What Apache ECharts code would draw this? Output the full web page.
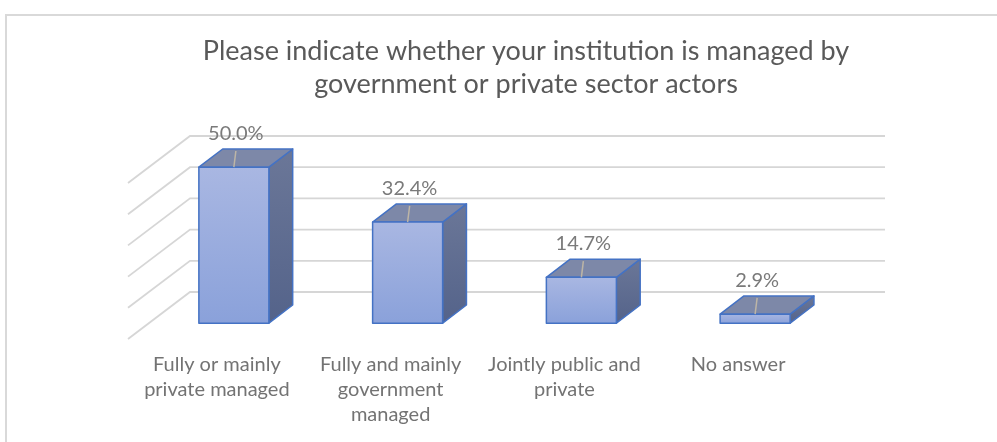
<!DOCTYPE html>
<html>
<head>
<meta charset="utf-8">
<script src="https://cdn.jsdelivr.net/npm/echarts@6/dist/echarts.min.js"></script>
<style>
  html, body { margin: 0; padding: 0; background: #ffffff; }
  #chart { width: 997px; height: 442px; }
</style>
</head>
<body>
<div id="chart"></div>
<script>
// Survey answers and their shares (%)
const categories = [
  'Fully or mainly\nprivate managed',
  'Fully and mainly\ngovernment\nmanaged',
  'Jointly public and\nprivate',
  'No answer'
];
const shares = [50.0, 32.4, 14.7, 2.9];
// Value levels of the back-wall gridlines (%)
const gridTicks = [10, 20, 30, 40, 50, 60];
const titleText = 'Please indicate whether your institution is managed by\ngovernment or private sector actors';

const FONT = 'Lato';
const chart = echarts.init(document.getElementById('chart'), null, { renderer: 'canvas' });

// Shared vertical placement of the three grids (wall, bars, labels)
const PLOT_TOP = 136;
const PLOT_BOTTOM = 442 - 323.2;

// Back-wall gridline with its slanted side-wall continuation
function renderWallLine(params, api) {
  const v = api.value(1);
  const y = api.coord([0, v])[1];
  const cs = params.coordSys;
  return {
    type: 'polyline',
    shape: { points: [[cs.x - 62, y + 47], [cs.x, y], [cs.x + cs.width, y]] },
    style: { stroke: '#d6d6d6', lineWidth: 1.8, fill: null }
  };
}

// Oblique 3D column with its value label and leader line
function renderColumn(params, api) {
  const i = api.value(0);
  const v = api.value(1);
  const base = api.coord([i, 0]);
  const top = api.coord([i, v]);
  const band = api.size([1, 0])[0];
  const w = band * 0.403;
  const hw = w / 2;
  const dx = w * 0.34;
  const dy = -w * 0.26;
  const cx = base[0];
  const L = cx - hw, R = cx + hw, T = top[1], B = base[1];
  const edge = '#4472c4';
  return {
    type: 'group',
    children: [
      {
        type: 'polygon',
        shape: { points: [[R, T], [R + dx, T + dy], [R + dx, B + dy], [R, B]] },
        style: {
          fill: new echarts.graphic.LinearGradient(0, 0, 0, 1, [
            { offset: 0, color: '#6b7798' },
            { offset: 1, color: '#54638a' }
          ]),
          stroke: edge, lineWidth: 1.5, lineJoin: 'round'
        }
      },
      {
        type: 'polygon',
        shape: { points: [[L, T], [R, T], [R + dx, T + dy], [L + dx, T + dy]] },
        style: { fill: '#7d88a8', stroke: edge, lineWidth: 1.5, lineJoin: 'round' }
      },
      {
        type: 'rect',
        shape: { x: L, y: T, width: w, height: B - T },
        style: {
          fill: new echarts.graphic.LinearGradient(0, 0, 0, 1, [
            { offset: 0, color: '#a9b7e2' },
            { offset: 1, color: '#8aa1da' }
          ]),
          stroke: edge, lineWidth: 1.5, lineJoin: 'round'
        }
      },
      {
        type: 'line',
        shape: { x1: cx + 2, y1: T + dy + 2, x2: cx, y2: T },
        style: { stroke: '#bdb5a6', lineWidth: 1.5 }
      },
      {
        type: 'text',
        style: {
          text: v.toFixed(1) + '%',
          x: cx + 2,
          y: T - 34,
          align: 'center',
          verticalAlign: 'middle',
          fontFamily: FONT,
          fontSize: 20,
          fill: '#7a7a7a'
        }
      }
    ]
  };
}

const hiddenValueY = (gi) => ({
  gridIndex: gi, type: 'value', min: 0, max: 60, interval: 10, show: false
});

chart.setOption({
  animation: false,
  backgroundColor: '#ffffff',
  title: {
    text: titleText,
    left: 521,
    top: 30,
    textAlign: 'center',
    textStyle: {
      fontFamily: FONT, fontSize: 27, fontWeight: 'normal',
      color: '#595959', lineHeight: 33
    }
  },
  graphic: [{
    type: 'rect',
    shape: { x: 6, y: 15, width: 1200, height: 600 },
    style: { fill: null, stroke: '#d9d9d9', lineWidth: 2 },
    silent: true
  }],
  grid: [
    { left: 190, right: 112, top: PLOT_TOP, bottom: PLOT_BOTTOM },
    { left: 147, right: 155, top: PLOT_TOP, bottom: PLOT_BOTTOM },
    { left: 130, right: 172, top: PLOT_TOP, bottom: PLOT_BOTTOM }
  ],
  xAxis: [
    { gridIndex: 0, type: 'value', min: 0, max: 1, show: false },
    { gridIndex: 1, type: 'category', data: categories, show: false },
    {
      gridIndex: 2, type: 'category', data: categories,
      axisLine: { show: false }, axisTick: { show: false }, splitLine: { show: false },
      axisLabel: {
        interval: 0, margin: 29, fontFamily: FONT, fontSize: 20,
        lineHeight: 25, color: '#737373', align: 'center'
      }
    }
  ],
  yAxis: [hiddenValueY(0), hiddenValueY(1), hiddenValueY(2)],
  series: [
    {
      type: 'custom',
      xAxisIndex: 0, yAxisIndex: 0,
      z: 1,
      renderItem: renderWallLine,
      data: gridTicks.map(v => [0, v])
    },
    {
      type: 'custom',
      xAxisIndex: 1, yAxisIndex: 1,
      z: 5,
      renderItem: renderColumn,
      data: shares.map((v, i) => [i, v])
    }
  ]
});
</script>
</body>
</html>
